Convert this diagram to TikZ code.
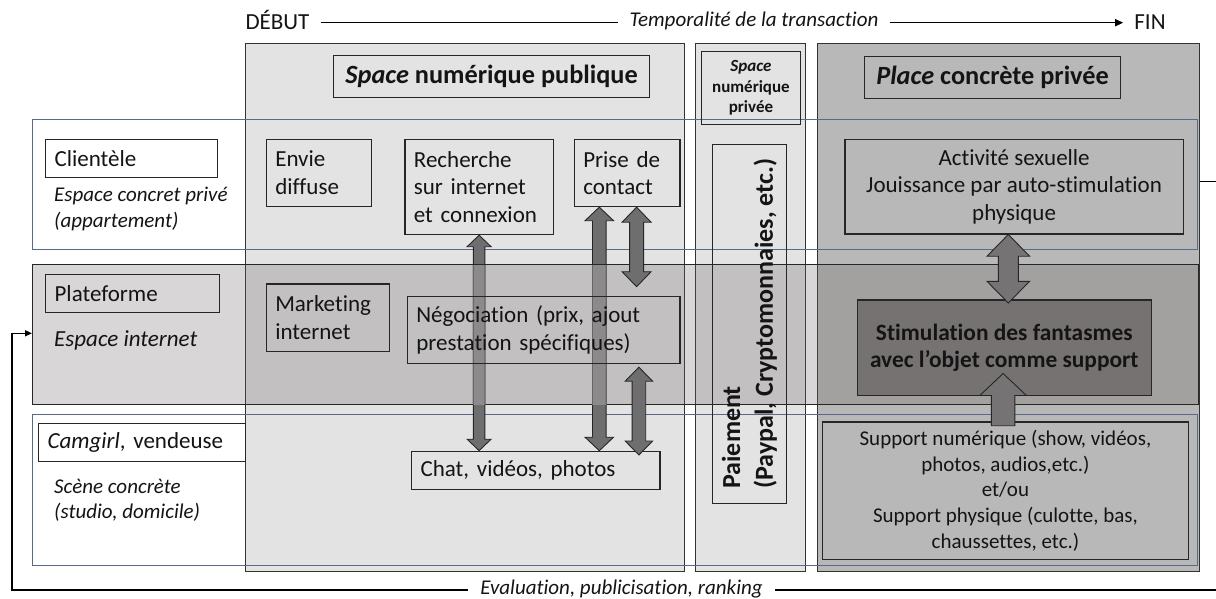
\documentclass[tikz,border=0pt]{standalone}
\usepackage{fontspec}
\setmainfont{Carlito}[Ligatures=NoCommon]
\usetikzlibrary{calc,arrows.meta}
\pgfdeclarelayer{back}
\pgfdeclarelayer{arr}
\pgfdeclarelayer{over}
\pgfsetlayers{back,arr,over,main}
\definecolor{colA}{RGB}{227,227,227}
\definecolor{colC}{RGB}{185,184,184}
\definecolor{rowtwo}{RGB}{103,95,95}
\definecolor{bluegray}{RGB}{88,106,136}
\definecolor{arrowdark}{RGB}{111,110,110}
\definecolor{arrowlight}{RGB}{140,138,138}
\definecolor{bigarrow}{RGB}{117,115,115}
\definecolor{stimfill}{RGB}{118,114,113}
\definecolor{txt}{RGB}{20,20,20}
\newcommand\DArrow[6][]{%
  \path[blockarrow,#1] let \p1=(#2), \p2=(#3) in
    (\x1,\y1) -- (\x1+#5,\y1-#6) -- (\x1+#4,\y1-#6) -- (\x1+#4,\y2+#6)
    -- (\x1+#5,\y2+#6) -- (\x1,\y2) -- (\x1-#5,\y2+#6) -- (\x1-#4,\y2+#6)
    -- (\x1-#4,\y1-#6) -- (\x1-#5,\y1-#6) -- cycle;}
\newcommand\UArrow[6][]{%
  \path[blockarrow,#1] let \p1=(#2), \p2=(#3) in
    (\x1,\y1) -- (\x1+#5,\y1-#6) -- (\x1+#4,\y1-#6) -- (\x1+#4,\y2)
    -- (\x1-#4,\y2) -- (\x1-#4,\y1-#6) -- (\x1-#5,\y1-#6) -- cycle;}
\begin{document}
\begin{tikzpicture}[x=1pt,y=-1pt,
  every node/.style={text=txt},
  colbox/.style={draw=black!80, line width=1.3pt, anchor=north west, inner sep=0pt},
  rowbox/.style={draw=bluegray, line width=0.9pt, anchor=north west, inner sep=0pt},
  bx/.style={draw=black!85, line width=1.2pt, anchor=north west, inner xsep=9pt, inner ysep=0pt},
  ft/.style={font=\fontsize{23}{27.7}\selectfont},
  ftit/.style={font=\fontsize{21}{26}\selectfont\itshape},
  ttl/.style={font=\fontsize{26.3}{32}\selectfont\bfseries},
  blockarrow/.style={draw=black!85, line width=0.9pt, fill=arrowdark},
  conn/.style={line width=1.4pt, draw=black}
]
\useasboundingbox (0,0) rectangle (1216,599);
\clip (0,0) rectangle (1216,599);

% columns and rows (background)
\begin{pgfonlayer}{back}
\node[colbox, fill=colA, minimum width=439pt, minimum height=528pt] (colpub) at (245,43) {};
\node[colbox, fill=colA, minimum width=110pt, minimum height=528pt] (colpriv) at (695,43) {};
\node[colbox, fill=colC, minimum width=382pt, minimum height=528pt] (colplace) at (817,43) {};
\node[rowbox, minimum width=1165pt, minimum height=130.3pt] (row1) at (32,118.7) {};
\node[rowbox, minimum width=1165pt, minimum height=150.8pt] (row3) at (32,413.7) {};
\end{pgfonlayer}
\begin{pgfonlayer}{over}
\node[draw=black!85, line width=1.2pt, fill=rowtwo, fill opacity=0.257, anchor=north west, inner sep=0pt, minimum width=1166pt, minimum height=140pt] (row2) at (32,264) {};
\end{pgfonlayer}

% titles
\node[bx, ttl, minimum width=316pt, minimum height=42pt, inner xsep=0pt] (pubt) at (333,55) {\textit{Space} numérique publique};
\node[bx, minimum width=99.3pt, minimum height=73pt, inner xsep=0pt, align=center, font=\fontsize{17}{20.6}\selectfont\bfseries] (privt) at (700.7,51) {\textit{Space}\\numérique\\privée};
\node[bx, ttl, minimum width=256pt, minimum height=42pt, inner xsep=0pt] (placet) at (864,56) {\textit{Place} concrète privée};

% row labels
\node[bx, ft, fill=white, text width=154pt, minimum height=38.3pt, align=left] (clientele) at (45,138.7) {Clientèle};
\node[ftit, anchor=base west, inner sep=0pt] (lab1a) at (54,201.5) {Espace concret privé};
\node[ftit, anchor=base west, inner sep=0pt] (lab1b) at (54,227) {(appartement)};
\node[bx, ft, text width=155.7pt, minimum height=38pt, align=left] (platef) at (45,273.7) {Plateforme};
\node[font=\fontsize{23}{27.7}\selectfont\itshape, anchor=base west, inner sep=0pt] (lab2) at (54,346.7) {Espace internet};
\node[bx, ft, fill=white, text width=189pt, minimum height=38.3pt, align=left] (camgirl) at (38,422.7) {\textit{Camgirl}, vendeuse};
\node[ftit, anchor=base west, inner sep=0pt] (lab3a) at (54,493.3) {Scène concrète};
\node[ftit, anchor=base west, inner sep=0pt] (lab3b) at (54,518.3) {(studio, domicile)};

% public column boxes
\node[bx, ft, text width=87pt, minimum height=67.3pt, align=left] (envie) at (265.7,138.7) {Envie\\diffuse};
\node[bx, ft, text width=130.4pt, minimum height=95.3pt, align=left] (rech) at (404.3,138.7) {Recherche\\sur internet\\et connexion};
\node[bx, ft, text width=87.6pt, minimum height=67.3pt, align=left] (prise) at (573.7,138.7) {Prise de\\contact};
\node[bx, ft, text width=105.3pt, minimum height=67.7pt, align=left] (mkt) at (265.7,283.3) {Marketing\\internet};
\node[bx, ft, text width=254.6pt, minimum height=67pt, align=left] (neg) at (406.7,295.7) {Négociation (prix, ajout\\prestation spécifiques)};
\node[bx, ft, text width=230.3pt, minimum height=38.3pt, align=left] (chat) at (411,450.7) {Chat, vidéos, photos};

% payment
\node[draw=black!85, line width=1.2pt, rotate=90, minimum width=359pt, minimum height=74.4pt, inner sep=0pt, align=left, font=\fontsize{26}{32.7}\selectfont\bfseries] (paie) at (749.5,323.8) {Paiement\\(Paypal, Cryptomonnaies, etc.)};

% place column boxes
\node[bx, ft, minimum width=338.4pt, minimum height=94.6pt, inner xsep=0pt, align=center] (act) at (844.3,138.7) {Activité sexuelle\\Jouissance par auto-stimulation\\physique};
\node[bx, fill=stimfill, minimum width=294pt, minimum height=95.7pt, inner xsep=0pt, align=center, font=\fontsize{23.4}{27.3}\selectfont\bfseries] (stim) at (856.7,299.3) {Stimulation des fantasmes\\avec l’objet comme support};
\node[bx, minimum width=365.7pt, minimum height=137.7pt, inner xsep=0pt, align=center, font=\fontsize{21}{25.6}\selectfont] (supp) at (822,421.3) {Support numérique (show, vidéos,\\photos, audios,etc.)\\et/ou\\Support physique (culotte, bas,\\chaussettes, etc.)};

% arrow coordinates
\coordinate (a1t) at (rech.south);
\coordinate (a1b) at (rech.south |- chat.north);
\coordinate (a2t) at ($(prise.south)+(-27.8,0)$);
\coordinate (a2b) at (a2t |- chat.north);
\coordinate (a3t) at ($(prise.south)+(9.5,0)$);
\coordinate (a3b) at ($(a3t |- neg.north)+(0,-9)$);
\coordinate (a4t) at ($(neg.south east)+(-41.6,3.3)$);
\coordinate (a4b) at ($(a4t |- chat.north)+(0,4.3)$);
\coordinate (a5t) at ($(act.south)+(-5.8,0)$);
\coordinate (a5b) at ($(a5t |- stim.north)+(0,3.7)$);
\coordinate (a6t) at ($(stim.south)+(-1.2,-22.7)$);
\coordinate (a6b) at ($(a6t |- supp.north)+(0,4.4)$);

% long arrows (behind row 2)
\begin{pgfonlayer}{arr}
\DArrow{a1t}{a1b}{5.8pt}{12pt}{11.5pt}
\DArrow{a2t}{a2b}{6.8pt}{14.3pt}{13.5pt}
\end{pgfonlayer}
\begin{pgfonlayer}{over}
\begin{scope}
\clip ([yshift=-1pt]row2.north west) rectangle ([yshift=1pt]row2.south east);
\DArrow[fill=arrowlight, draw=black!60]{a1t}{a1b}{5.8pt}{12pt}{11.5pt}
\DArrow[fill=arrowlight, draw=black!60]{a2t}{a2b}{6.8pt}{14.3pt}{13.5pt}
\end{scope}
\end{pgfonlayer}

% short arrows
\DArrow{a3t}{a3b}{7pt}{14.5pt}{15pt}
\DArrow{a4t}{a4b}{6.8pt}{13.7pt}{14pt}
\DArrow[fill=bigarrow]{a5t}{a5b}{10pt}{21.3pt}{21.7pt}
\UArrow[fill=bigarrow]{a6t}{a6b}{11.7pt}{23.3pt}{22pt}

% time axis
\node[ft, text height=17pt, text depth=4pt, inner xsep=11pt, inner ysep=0pt] (debut) at (277.5,22.7) {DÉBUT};
\node[ftit, text height=13pt, text depth=5pt, inner xsep=11pt, inner ysep=0pt] (temp) at (754,22.7) {Temporalité de la transaction};
\node[ft, text height=17pt, text depth=4pt, inner xsep=11pt, inner ysep=0pt] (fin) at (1150,22.7) {FIN};
\draw[conn] (debut.east) -- (temp.west);
\draw[conn, -{Triangle[length=8pt,width=7pt]}] (temp.east) -- (fin.west);

% feedback loop
\node[ftit, text height=13pt, text depth=5pt, inner xsep=12pt, inner ysep=0pt] (eval) at (621.5,590) {Evaluation, publicisation, ranking};
\coordinate (fbL) at (12,333.3);
\coordinate (fbR) at (1224,181.7);
\draw[conn, line width=1.6pt, -{Triangle[length=7pt,width=6pt]}] (eval.west) -| (fbL) -- (fbL -| row2.west);
\draw[conn, line width=1.6pt] (colplace.east |- fbR) -- (fbR) |- (eval.east);
\end{tikzpicture}
\end{document}
